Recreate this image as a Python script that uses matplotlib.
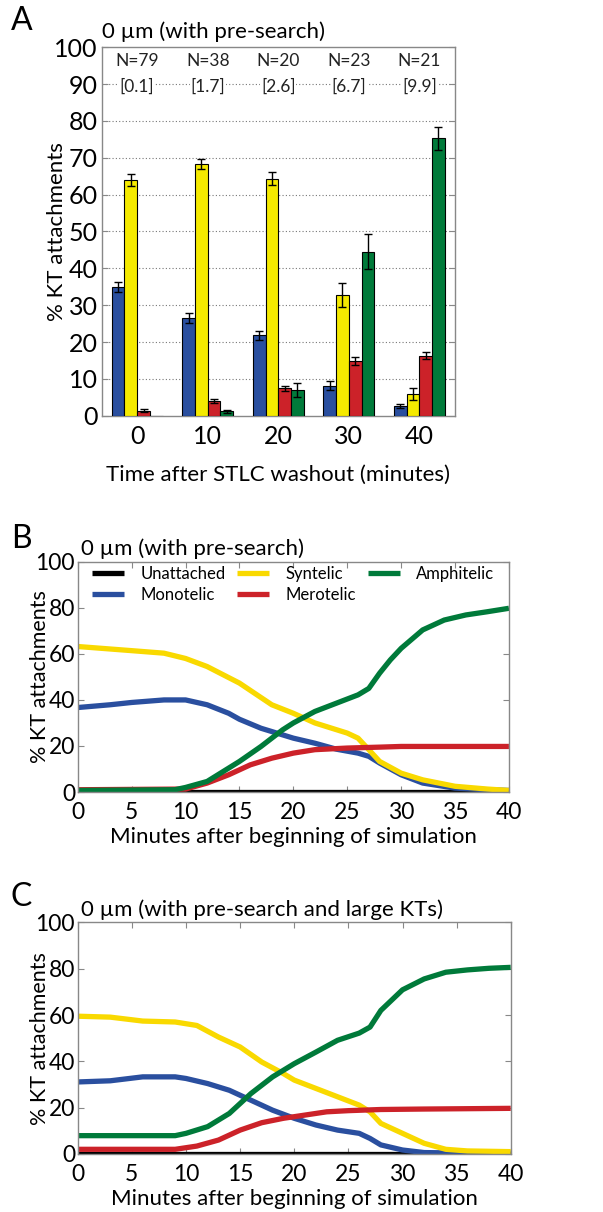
import numpy as np
import matplotlib
matplotlib.use("Agg")
import matplotlib.pyplot as plt

plt.rcParams['font.family'] = ['Lato', 'DejaVu Sans']

# ---- colours ----
C_BLUE = "#2a4f9f"
C_YEL_BAR = "#f5ea00"
C_YEL_LINE = "#f9d900"
C_RED = "#cc2229"
C_GREEN = "#007a3a"
SPINE = "#888888"

# ---- panel A data ----
times = [0, 10, 20, 30, 40]
n_cells = ["N=79", "N=38", "N=20", "N=23", "N=21"]
brackets = ["[0.1]", "[1.7]", "[2.6]", "[6.7]", "[9.9]"]
mono_pct = [35.0, 26.5, 21.8, 8.2, 2.6]
mono_err = [1.3, 1.3, 1.2, 1.2, 0.6]
synt_pct = [64.0, 68.3, 64.3, 32.8, 6.0]
synt_err = [1.7, 1.3, 1.8, 3.2, 1.6]
mero_pct = [1.3, 4.0, 7.4, 14.8, 16.3]
mero_err = [0.4, 0.6, 0.8, 1.1, 1.0]
amph_pct = [0.0, 1.2, 7.0, 44.5, 75.3]
amph_err = [0.0, 0.4, 2.0, 4.8, 3.1]

# ---- panel B data ----
b_synt_t = [0, 5, 8, 10, 12, 15, 18, 20, 22, 25, 26, 27, 28, 30, 32, 35, 38, 40]
b_synt_v = [63.2, 61.4, 60.3, 58.0, 54.5, 47.3, 37.9, 34.2, 30.0, 25.6, 23.4, 18.4, 13.3, 8.2, 5.3, 2.5, 1.3, 0.7]
b_mono_t = [0, 3, 5, 8, 10, 12, 14, 15, 17, 20, 22, 24, 26, 27, 28, 30, 32, 35, 38, 40]
b_mono_v = [36.7, 37.9, 38.9, 40.0, 40.0, 37.9, 34.2, 31.6, 27.7, 23.4, 21.2, 18.6, 16.9, 15.5, 12.6, 7.5, 3.9, 1.7, 1.0, 0.7]
b_amph_t = [0, 9, 10, 12, 14, 15, 17, 19, 20, 22, 24, 26, 27, 28, 29, 30, 32, 34, 36, 38, 40]
b_amph_v = [0.7, 1.0, 2.0, 4.6, 10.4, 13.3, 19.8, 27.0, 30.0, 35.0, 38.6, 42.2, 45.0, 51.6, 57.4, 62.4, 70.4, 74.7, 76.9, 78.3, 79.8]
b_mero_t = [0, 10, 12, 14, 16, 18, 20, 22, 25, 28, 30, 35, 40]
b_mero_v = [1.0, 1.3, 3.9, 7.5, 11.8, 14.7, 16.9, 18.4, 19.1, 19.5, 19.8, 19.8, 19.8]
b_unat_t = [0, 40]
b_unat_v = [0.1, 0.1]

# ---- panel C data ----
c_synt_t = [0, 3, 6, 9, 11, 13, 15, 17, 19, 20, 22, 24, 26, 27, 28, 30, 32, 34, 36, 40]
c_synt_v = [59.5, 59.1, 57.4, 57.0, 55.5, 50.5, 46.2, 39.7, 34.7, 31.9, 28.3, 24.7, 21.1, 18.2, 13.2, 8.9, 4.6, 2.0, 1.3, 1.0]
c_mono_t = [0, 3, 6, 9, 10, 12, 14, 16, 18, 20, 22, 24, 26, 27, 28, 30, 32, 35, 40]
c_mono_v = [31.1, 31.6, 33.3, 33.3, 32.6, 30.4, 27.5, 23.2, 18.9, 15.4, 12.5, 10.3, 8.9, 6.7, 3.9, 1.7, 0.6, 0.4, 0.4]
c_amph_t = [0, 9, 10, 12, 14, 16, 18, 20, 22, 24, 26, 27, 28, 30, 32, 34, 36, 38, 40]
c_amph_v = [7.9, 7.9, 8.9, 11.8, 17.5, 26.1, 33.3, 39.0, 44.0, 49.1, 52.2, 54.8, 62.0, 70.9, 75.6, 78.5, 79.5, 80.2, 80.6]
c_mero_t = [0, 9, 11, 13, 15, 17, 19, 21, 23, 25, 28, 32, 40]
c_mero_v = [2.0, 2.0, 3.4, 6.0, 10.3, 13.5, 15.4, 16.8, 18.2, 18.7, 19.2, 19.4, 19.7]
c_unat_t = [0, 40]
c_unat_v = [0.1, 0.1]


def style_axes(ax):
    for s in ax.spines.values():
        s.set_color(SPINE)
        s.set_linewidth(1.0)
    ax.tick_params(direction="in", top=True, right=True, color=SPINE,
                   length=4, width=0.8)


fig = plt.figure(figsize=(6.03, 12.12), dpi=100)

# ================= Panel A =================
axA = fig.add_axes([0.169, 0.657, 0.585, 0.304])
bw = 1.8
offsets = [-1.5 * bw, -0.5 * bw, 0.5 * bw, 1.5 * bw]
series = [(mono_pct, mono_err, C_BLUE), (synt_pct, synt_err, C_YEL_BAR),
          (mero_pct, mero_err, C_RED), (amph_pct, amph_err, C_GREEN)]
x = np.array(times, dtype=float)
for (vals, errs, col), off in zip(series, offsets):
    axA.bar(x + off, vals, width=bw, color=col, edgecolor="black",
            linewidth=0.8, zorder=3)
    e = np.array(errs)
    mask = e > 0
    axA.errorbar((x + off)[mask], np.array(vals)[mask], yerr=e[mask], fmt="none",
                 ecolor="black", elinewidth=1.0, capsize=3, capthick=1.0, zorder=4)

axA.set_xlim(-5, 45)
axA.set_ylim(0, 100)
axA.set_yticks(range(0, 101, 10))
axA.set_xticks(times)
axA.tick_params(axis="both", labelsize=18)
axA.tick_params(axis="x", pad=7)
axA.tick_params(axis="y", pad=3)
for yv in range(10, 100, 10):
    axA.axhline(yv, color="#777777", linestyle=(0, (1, 2)), linewidth=0.8, zorder=1)
style_axes(axA)
axA.tick_params(top=False, bottom=False)
axA.set_ylabel("% KT attachments", fontsize=16)
axA.yaxis.set_label_coords(-0.098, 0.5)
axA.set_xlabel("Time after STLC washout (minutes)", fontsize=16, labelpad=12)
axA.set_title("0 \u00b5m (with pre-search)", fontsize=16, loc="left", x=0.0, pad=7)
for t, n, b in zip(times, n_cells, brackets):
    axA.text(t, 96.2, n, ha="center", va="center", fontsize=12.5, color="#222222")
    axA.text(t, 89.4, b, ha="center", va="center", fontsize=12.5, color="#222222",
             bbox=dict(facecolor="white", edgecolor="none", pad=0.5))
fig.text(0.018, 1 - 21 / 1212, "A", fontsize=23, va="center")


def line_panel(rect, letter, letter_y, title, data, legend):
    ax = fig.add_axes(rect)
    for (tt, vv, col, lab) in data:
        ax.plot(tt, vv, color=col, linewidth=3.8, label=lab, solid_capstyle="butt")
    ax.set_xlim(0, 40)
    ax.set_ylim(0, 100)
    ax.set_xticks(range(0, 41, 5))
    ax.set_yticks(range(0, 101, 20))
    ax.tick_params(axis="both", labelsize=16.5)
    ax.tick_params(axis="x", pad=7)
    ax.tick_params(axis="y", pad=2)
    style_axes(ax)
    ax.set_ylabel("% KT attachments", fontsize=15.5)
    ax.yaxis.set_label_coords(-0.064, 0.5)
    ax.set_xlabel("Minutes after beginning of simulation", fontsize=16, labelpad=3)
    ax.set_title(title, fontsize=16, loc="left", pad=5, x=0.007)
    if legend:
        ax.legend(ncol=3, frameon=False, loc="upper left", fontsize=12,
                  handlelength=1.9, columnspacing=0.7, labelspacing=0.3,
                  borderaxespad=0.0, handletextpad=1.0,
                  bbox_to_anchor=(0.018, 1.01))
    fig.text(0.018, 1 - letter_y / 1212, letter, fontsize=23, va="center")
    return ax


dataB = [(b_unat_t, b_unat_v, "black", "Unattached"),
         (b_mono_t, b_mono_v, C_BLUE, "Monotelic"),
         (b_synt_t, b_synt_v, C_YEL_LINE, "Syntelic"),
         (b_mero_t, b_mero_v, C_RED, "Merotelic"),
         (b_amph_t, b_amph_v, C_GREEN, "Amphitelic")]
line_panel([0.129, 0.3465, 0.715, 0.190], "B", 539, "0 \u00b5m (with pre-search)", dataB, True)

dataC = [(c_unat_t, c_unat_v, "black", "Unattached"),
         (c_mono_t, c_mono_v, C_BLUE, "Monotelic"),
         (c_synt_t, c_synt_v, C_YEL_LINE, "Syntelic"),
         (c_mero_t, c_mero_v, C_RED, "Merotelic"),
         (c_amph_t, c_amph_v, C_GREEN, "Amphitelic")]
line_panel([0.129, 0.0479, 0.718, 0.191], "C", 897, "0 \u00b5m (with pre-search and large KTs)", dataC, False)

fig.savefig("out.png", dpi=100)
